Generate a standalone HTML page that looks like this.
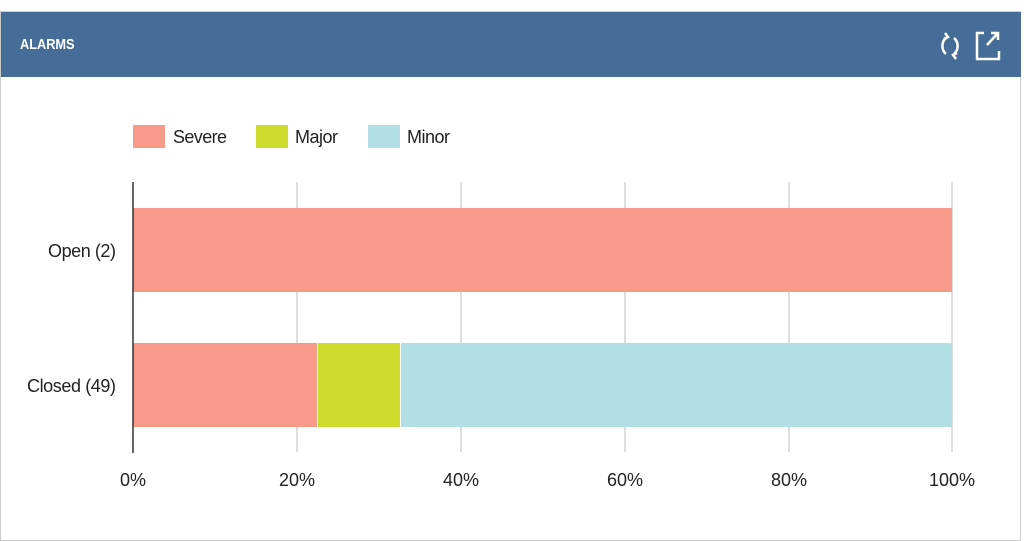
<!DOCTYPE html>
<html><head><style>
body{margin:0;width:1024px;height:535px;background:#fff;overflow:hidden;font-family:"Liberation Sans",sans-serif;}
.panel{position:absolute;left:0;top:11px;width:1021px;height:530px;border:1px solid #ccc;box-sizing:border-box;}
.hdr{position:absolute;left:1px;top:12px;width:1020px;height:65px;background:#466d97;}
.t{position:absolute;left:20px;top:36px;line-height:18px;color:#fff;font-weight:bold;font-size:15px;transform:scaleX(0.85);transform-origin:left;}
</style></head><body>
<div class="panel"></div>
<div class="hdr"></div>
<div class="t">ALARMS</div>
<svg width="1024" height="535" style="position:absolute;left:0;top:0" font-family="Liberation Sans, sans-serif">
<g stroke="#fff" stroke-width="2.5" fill="none">
<path d="M946 38 A9 10 0 0 0 946 54"/><path d="M954 38 A9 10 0 0 1 954 54"/>
<path d="M945 33 l3 4 l-4 2" /><path d="M956 59 l-3 -4 l4 -2"/>
<path d="M984 33 h-7 v26 h22 v-8"/><path d="M987 45 l11 -12 M991 33 h7 v7"/>
</g>
<rect x="133" y="125" width="32" height="23" fill="#f79a89"/>
<text x="173" y="143" font-size="18" fill="#222" textLength="54">Severe</text>
<rect x="256" y="125" width="32" height="23" fill="#cddc2b"/>
<text x="295" y="143" font-size="18" fill="#222" textLength="43">Major</text>
<rect x="368" y="125" width="32" height="23" fill="#b1dfe5"/>
<text x="407" y="143" font-size="18" fill="#222" textLength="43">Minor</text>
<g stroke="#d4d4d4" stroke-width="1.5">
<line x1="297" y1="182" x2="297" y2="452"/><line x1="461" y1="182" x2="461" y2="452"/>
<line x1="625" y1="182" x2="625" y2="452"/><line x1="789" y1="182" x2="789" y2="452"/>
<line x1="952" y1="182" x2="952" y2="452"/>
</g>
<rect x="133" y="208" width="819" height="84" fill="#f79a89"/>
<rect x="133" y="343" width="184" height="84" fill="#f79a89"/>
<rect x="318" y="343" width="82" height="84" fill="#cddc2b"/>
<rect x="401" y="343" width="551" height="84" fill="#b1dfe5"/>
<line x1="133" y1="182" x2="133" y2="453" stroke="#333" stroke-width="1.5"/>
<g font-size="18" fill="#222">
<text x="48" y="257" textLength="68">Open (2)</text><text x="27" y="392" textLength="89">Closed (49)</text>
</g>
<g font-size="18" fill="#222" text-anchor="middle">
<text x="133" y="486">0%</text><text x="297" y="486">20%</text><text x="461" y="486">40%</text>
<text x="625" y="486">60%</text><text x="789" y="486">80%</text><text x="952" y="486">100%</text>
</g>
</svg>
</body></html>
